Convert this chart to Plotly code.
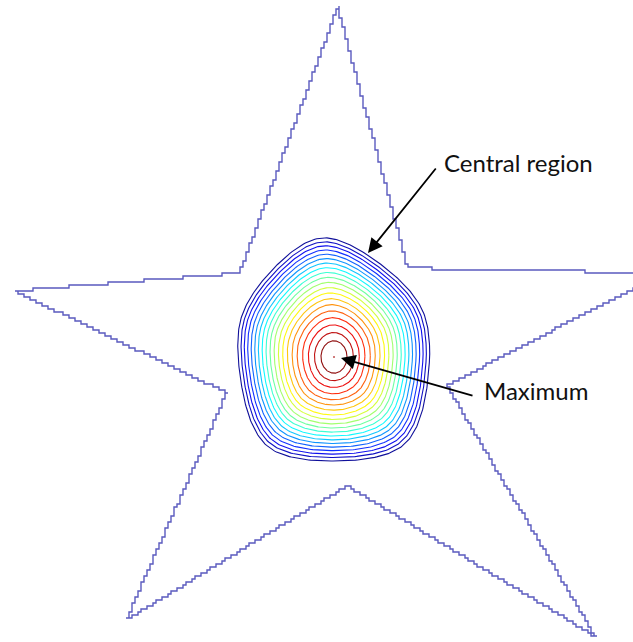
import numpy as np
import plotly.graph_objects as go
from plotly.colors import sample_colorscale

# Star-shaped domain outline (vertices, counter-clockwise from the top tip)
star_x = [338, 240, 14, 227, 127, 347, 596, 447, 664, 408]
star_y = [635, 369, 351, 249, 23, 156, 5, 257, 369, 374]

# Outer contour of the central region: a pentagon with rounded corners
pent_x = [321, 229, 255, 418, 437]
pent_y = [422, 328, 180, 182, 336]
pent_center = (333, 288)

# Location of the maximum and shape of the innermost contour
max_x, max_y = 334, 285
inner_ax, inner_ay = 98, 122  # half-axes of the limiting ellipse (scaled by ring size)

# Contour levels (fraction of the maximum) and relative size of each ring
levels = [0.05, 0.10, 0.15, 0.20, 0.25, 0.30, 0.35, 0.40, 0.45, 0.50,
          0.55, 0.60, 0.65, 0.70, 0.75, 0.80, 0.85, 0.90, 0.95, 1.00]
ring_scale = [1.000, 0.965, 0.931, 0.895, 0.858, 0.820, 0.782, 0.742, 0.701, 0.659,
              0.616, 0.571, 0.526, 0.478, 0.428, 0.376, 0.320, 0.261, 0.199, 0.133]

jet = [[0.0, "#10109a"], [0.125, "#1010ff"], [0.375, "#10ffff"],
       [0.625, "#ffff10"], [0.875, "#ff1010"], [1.0, "#901010"]]


def cut_corners(pts, a):
    nxt = np.roll(pts, -1, axis=0)
    out = np.empty((2 * len(pts), 2))
    out[0::2] = (1 - a) * pts + a * nxt
    out[1::2] = a * pts + (1 - a) * nxt
    return out


def rounded_polygon(xs, ys):
    pts = np.column_stack([xs, ys]).astype(float)
    pts = cut_corners(pts, 0.2)
    pts = cut_corners(pts, 0.25)
    pts = cut_corners(pts, 0.25)
    return pts


def ray_radius(poly, cx, cy, theta):
    dx, dy = np.cos(theta), np.sin(theta)
    best = np.inf
    nxt = np.roll(poly, -1, axis=0)
    for (x1, y1), (x2, y2) in zip(poly, nxt):
        ex, ey = x2 - x1, y2 - y1
        den = dx * ey - dy * ex
        if abs(den) < 1e-12:
            continue
        t = ((x1 - cx) * ey - (y1 - cy) * ex) / den
        u = ((x1 - cx) * dy - (y1 - cy) * dx) / den
        if t > 0 and -1e-9 <= u <= 1 + 1e-9:
            best = min(best, t)
    return best


def staircase(xs, ys, step):
    px, py = [], []
    xs = list(xs) + [xs[0]]
    ys = list(ys) + [ys[0]]
    for i in range(len(xs) - 1):
        n = int(max(abs(xs[i + 1] - xs[i]), abs(ys[i + 1] - ys[i]))) + 1
        for t in np.linspace(0, 1, n, endpoint=False):
            qx = step * round((xs[i] + t * (xs[i + 1] - xs[i])) / step)
            qy = step * round((ys[i] + t * (ys[i + 1] - ys[i])) / step)
            if px and (qx != px[-1] and qy != py[-1]):
                px.append(qx)
                py.append(py[-1])
            if not px or (qx, qy) != (px[-1], py[-1]):
                px.append(qx)
                py.append(qy)
    px.append(px[0])
    py.append(py[0])
    return px, py


fig = go.Figure()

# Star boundary
sx, sy = staircase(star_x, star_y, 3)
fig.add_trace(go.Scatter(x=sx, y=sy, mode="lines",
                         line=dict(color="#5a5abf", width=1.4),
                         hoverinfo="skip", showlegend=False))

# Contours of the central region
poly = rounded_polygon(pent_x, pent_y)
theta = np.linspace(0, 2 * np.pi, 361)
r_pent = np.array([ray_radius(poly, pent_center[0], pent_center[1], t) for t in theta])
r_ell = inner_ax * inner_ay / np.sqrt((inner_ay * np.cos(theta)) ** 2 + (inner_ax * np.sin(theta)) ** 2)

s_min = ring_scale[-1]
colors = sample_colorscale(jet, [(lv - levels[0]) / (levels[-1] - levels[0]) for lv in levels])
for lv, s, col in zip(levels, ring_scale, colors):
    w = ((1 - s) / (1 - s_min)) ** 1.4
    cx = (1 - w) * pent_center[0] + w * max_x
    cy = (1 - w) * pent_center[1] + w * max_y
    r = s * ((1 - w) * r_pent + w * r_ell)
    fig.add_trace(go.Scatter(x=cx + r * np.cos(theta), y=cy + r * np.sin(theta),
                             mode="lines", line=dict(color=col, width=1.1),
                             name=f"{lv:.2f}", hoverinfo="skip", showlegend=False))

# Maximum point
fig.add_trace(go.Scatter(x=[max_x], y=[max_y], mode="markers",
                         marker=dict(color="#c05050", size=2),
                         hoverinfo="skip", showlegend=False))

label_font = dict(family="Lato, 'Open Sans', sans-serif", size=24, color="#111111")
fig.add_annotation(x=442, y=480, text="Central region", showarrow=False,
                   xanchor="left", yanchor="middle", font=label_font)
fig.add_annotation(x=482, y=252, text="Maximum", showarrow=False,
                   xanchor="left", yanchor="middle", font=label_font)
fig.add_annotation(x=368, y=389, ax=437, ay=475, axref="x", ayref="y",
                   showarrow=True, arrowhead=2, arrowsize=1.6, arrowwidth=1.8,
                   arrowcolor="#000000", text="")
fig.add_annotation(x=341, y=284, ax=474, ay=246, axref="x", ayref="y",
                   showarrow=True, arrowhead=2, arrowsize=1.6, arrowwidth=1.8,
                   arrowcolor="#000000", text="")

fig.update_xaxes(range=[0, 633], visible=False)
fig.update_yaxes(range=[0, 642], visible=False)
fig.update_layout(width=633, height=642, margin=dict(l=0, r=0, t=0, b=0),
                  paper_bgcolor="white", plot_bgcolor="white")

fig.write_html("out.html")
